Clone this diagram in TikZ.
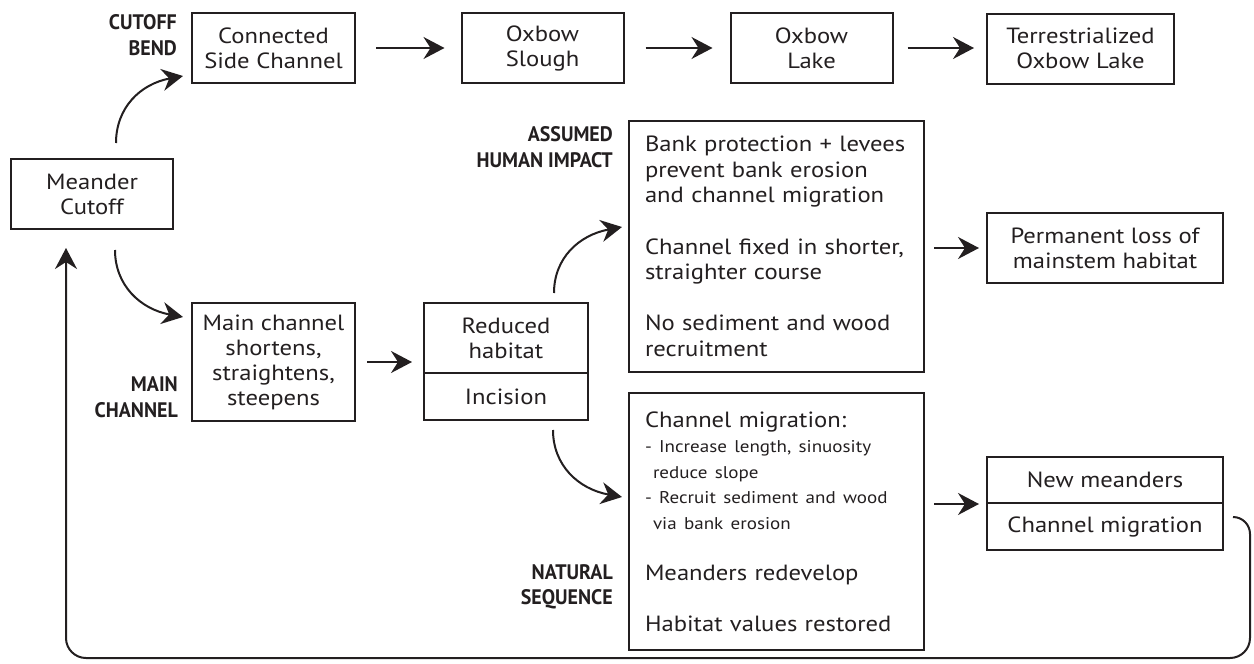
\documentclass[tikz,border=0pt]{standalone}
\usepackage{fontspec}
\setmainfont{PT Sans}[FakeStretch=1.12]
\newfontfamily\condfont{PT Sans}[FakeStretch=0.95]
\usetikzlibrary{arrows.meta,calc}
\definecolor{ink}{HTML}{231F20}
\begin{document}
\begin{tikzpicture}[x=1pt,y=-1pt,
  box/.style={draw=ink, line width=2pt, inner sep=0pt, align=center, text=ink,
    font=\fontsize{22}{25}\selectfont},
  bigbox/.style={draw=ink, line width=2pt, inner xsep=16pt, inner ysep=0pt, align=left, text=ink,
    text width=263pt, font=\fontsize{22}{25.6}\selectfont},
  lbl/.style={anchor=east, align=right, inner sep=0pt, text=ink,
    font=\condfont\bfseries\fontsize{21}{25.5}\selectfont},
  arr/.style={draw=ink, line width=2pt, -{Stealth[length=21pt,width=22pt,inset=7pt]}},
]
\useasboundingbox (0,0) rectangle (1254,664);

% top row
\node[box, minimum width=163pt, minimum height=70pt] (cs)  at (273.5,48) {Connected\\Side Channel};
\node[box, minimum width=162pt, minimum height=70pt] (os)  at (542.5,48) {Oxbow\\Slough};
\node[box, minimum width=162pt, minimum height=70pt] (ol)  at (811.5,48) {Oxbow\\Lake};
\node[box, minimum width=187pt, minimum height=70pt] (tol) at (1080.5,48.5) {Terrestrialized\\Oxbow Lake};

\node[box, minimum width=162pt, minimum height=70pt] (mc) at (92,194) {Meander\\Cutoff};

\node[box, minimum width=163pt, minimum height=118pt] (mch) at (273.5,362) {Main channel\\shortens,\\straightens,\\steepens};
\node[box, minimum width=164pt, minimum height=70pt] (rhA) at (506,338) {Reduced\\habitat};
\node[box, minimum width=164pt, minimum height=47pt] (rhB) at (506,396.5) {Incision};

\node[bigbox, minimum height=251pt] (hum) at (776.5,246.5)
  {Bank protection + levees\\prevent bank erosion\\and channel migration\\[25.6pt]Channel fixed in shorter,\\straighter course\\[25.6pt]No sediment and wood\\recruitment};
\node[bigbox, minimum height=257pt, font=\fontsize{22}{25.5}\selectfont] (nat) at (776.5,521.5)
  {Channel migration:\\
   {\fontsize{17}{25.5}\selectfont - Increase length, sinuosity}\\
   {\fontsize{17}{25.5}\selectfont \hspace*{8pt}reduce slope}\\
   {\fontsize{17}{25.5}\selectfont - Recruit sediment and wood}\\
   {\fontsize{17}{25.5}\selectfont \hspace*{8pt}via bank erosion}\\[25.5pt]
   Meanders redevelop\\[25.5pt]
   Habitat values restored};

\node[box, minimum width=236pt, minimum height=70pt] (perm) at (1105,248) {Permanent loss of\\mainstem habitat};
\node[box, minimum width=236pt, minimum height=46pt] (nmA) at (1105,480) {New meanders};
\node[box, minimum width=236pt, minimum height=47pt] (nmB) at (1105,526.5) {Channel migration};

% labels
\node[lbl] (lcut) at (177,35) {CUTOFF\\BEND};
\node[lbl] (lhum) at (613,147) {ASSUMED\\HUMAN IMPACT};
\node[lbl] (lmain) at (178,397) {MAIN\\CHANNEL};
\node[lbl] (lnat) at (613,587) {NATURAL\\SEQUENCE};

% straight arrows
\draw[arr, shorten <=20pt, shorten >=16pt] (cs.east) -- (os.west);
\draw[arr, shorten <=21pt, shorten >=17pt] (os.east) -- (ol.west);
\draw[arr, shorten <=14pt, shorten >=12pt] (ol.east) -- (tol.west |- ol.east);
\draw[arr, shorten <=11pt, shorten >=11pt] (mch.east) -- (mch.east -| rhA.west);
\draw[arr, shorten <=9pt, shorten >=7pt] (perm.west -| hum.east) -- (perm.west);
\draw[arr, shorten <=9pt, shorten >=7pt] (nmA.south west -| nat.east) -- (nmA.south west);

% curved arrows
\coordinate (c1s) at (116,143); \coordinate (c1e) at (183,76);
\coordinate (c2s) at (115,250); \coordinate (c2e) at (183,317);
\coordinate (c3s) at (554,293); \coordinate (c3e) at (622,227);
\coordinate (c4s) at (553,430); \coordinate (c4e) at (622,497);
\draw[arr] (c1s) .. controls (116,108) and (140,84) .. (c1e);
\draw[arr] (c2s) .. controls (115,285) and (140,309) .. (c2e);
\draw[arr] (c3s) .. controls (554,258) and (579,235) .. (c3e);
\draw[arr] (c4s) .. controls (553,465) and (578,489) .. (c4e);

% loop back
\coordinate (ls) at (1233,517);
\coordinate (le) at (66,248);
\draw[arr] (ls) to[out=0,in=90] (1250,534) -- (1250,638) to[out=-90,in=0] (1230,658)
  -- (86,658) to[out=180,in=-90] (66,638) -- (le);
\end{tikzpicture}
\end{document}
